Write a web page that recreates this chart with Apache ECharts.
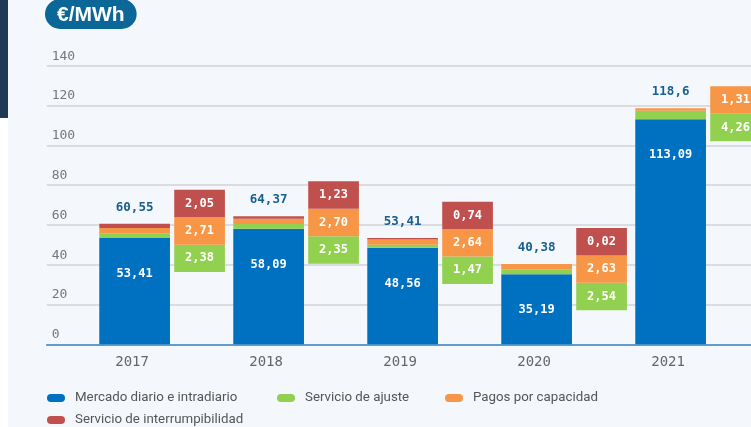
<!DOCTYPE html>
<html>
<head>
<meta charset="utf-8">
<script src="https://cdn.jsdelivr.net/npm/echarts@6/dist/echarts.min.js"></script>
<style>
  html, body { margin: 0; padding: 0; background: #F4F7FB; }
  #chart { width: 751px; height: 427px; }
</style>
</head>
<body>
<div id="chart"></div>
<script>
// datos (€/MWh)
const years = ['2017', '2018', '2019', '2020', '2021'];
const mercado = [53.41, 58.09, 48.56, 35.19, 113.09];
const ajuste = [2.38, 2.35, 1.47, 2.54, 4.26];
const capacidad = [2.71, 2.70, 2.64, 2.63, 1.31];
const interrump = [2.05, 1.23, 0.74, 0.02, null];
const totals = [60.55, 64.37, 53.41, 40.38, 118.6];
const yTicks = [0, 20, 40, 60, 80, 100, 120, 140];

const names = ['Mercado diario e intradiario', 'Servicio de ajuste', 'Pagos por capacidad', 'Servicio de interrumpibilidad'];
const colors = ['#0070C0', '#92D050', '#F79646', '#C0504D'];

const numFont = 'DejaVu Sans Mono';
const fmt2 = v => v.toFixed(2).replace('.', ',');
const fmtT = v => String(v).replace('.', ',');

// caja fija del desglose, en unidades del eje
const BOX = 13.8;
const base = years.map((_, i) => {
  const small = [ajuste[i], capacidad[i], interrump[i]].filter(v => v != null);
  const mid = mercado[i] + small.reduce((a, b) => a + b, 0) / 2;
  return mid - small.length * BOX / 2;
});

const dom = document.getElementById('chart');
const myChart = echarts.init(dom);

const mainW = 70.7, brkW = 50.7, gap = '6%';

const boxSeries = [ajuste, capacidad, interrump].map((arr, k) => ({
  name: names[k + 1],
  type: 'bar',
  stack: 'brk',
  xAxisIndex: 1, yAxisIndex: 1,
  barWidth: brkW, barGap: gap,
  itemStyle: { color: colors[k + 1] },
  label: {
    show: true, position: 'inside', color: '#fff',
    fontFamily: numFont, fontWeight: 'bold', fontSize: 12,
    formatter: p => fmt2(arr[p.dataIndex])
  },
  data: arr.map(v => v == null ? null : BOX)
}));

const legendPos = [[47, 391.5], [277, 391.5], [445, 391.5], [47, 413.5]];

const option = {
  backgroundColor: '#F4F7FB',
  animation: false,
  title: {
    text: '€/MWh',
    left: 45, top: -1,
    padding: [5, 12, 3, 12],
    backgroundColor: '#0B6797',
    borderRadius: 15,
    textStyle: { color: '#fff', fontFamily: 'Liberation Sans', fontWeight: 'bold', fontSize: 21, lineHeight: 22 }
  },
  graphic: [
    { type: 'rect', left: 0, top: 0, shape: { width: 8, height: 118 }, style: { fill: '#1E3A56' } },
    { type: 'rect', left: 0, top: 118, shape: { width: 8, height: 309 }, style: { fill: '#ffffff' } }
  ],
  legend: legendPos.map((p, k) => ({
    data: [names[k]],
    left: p[0], top: p[1], padding: 0,
    itemWidth: 18, itemHeight: 8,
    icon: 'path://M4,0 H14 A4,4 0 0 1 14,8 H4 A4,4 0 0 1 4,0 Z',
    textStyle: { color: '#555', fontFamily: 'Roboto', fontSize: 13.3, padding: [0, 0, 0, 5] }
  })),
  grid: [
    { left: 46.7, right: 0, top: 65.7, height: 278.6, outerBoundsMode: 'none' },
    { left: 95.1, width: 670, top: 65.7, height: 278.6, outerBoundsMode: 'none' }
  ],
  xAxis: [
    {
      gridIndex: 0, type: 'value', min: 0, max: 1,
      axisLine: { show: true, lineStyle: { color: '#3C86C6', width: 1.5 } },
      axisTick: { show: false }, axisLabel: { show: false }, splitLine: { show: false }
    },
    {
      gridIndex: 1, type: 'category', data: years,
      axisLine: { show: false }, axisTick: { show: false },
      axisLabel: {
        margin: 11,
        formatter: v => '{y|' + v + '}',
        rich: { y: { color: '#666', fontFamily: numFont, fontSize: 14, padding: [0, 60, 0, 0] } }
      }
    }
  ],
  yAxis: [
    {
      gridIndex: 0, type: 'value', min: yTicks[0], max: yTicks[yTicks.length - 1], interval: 20,
      axisLine: { show: false }, axisTick: { show: false },
      axisLabel: {
        inside: true, margin: 5, color: '#777', fontFamily: numFont, fontSize: 13,
        verticalAlign: 'bottom', padding: [0, 0, 3, 0]
      },
      splitLine: { lineStyle: { color: '#D3D3D3', width: 1.5 } }
    },
    {
      gridIndex: 1, type: 'value', min: yTicks[0], max: yTicks[yTicks.length - 1], interval: 20,
      show: false
    }
  ],
  series: [
    {
      name: names[0], type: 'bar', stack: 'main', xAxisIndex: 1, yAxisIndex: 1,
      barWidth: mainW, barGap: gap,
      itemStyle: { color: colors[0] },
      label: {
        show: true, position: 'insideTop', distance: 30, color: '#fff',
        fontFamily: numFont, fontWeight: 'bold', fontSize: 12,
        formatter: p => fmt2(p.value)
      },
      data: mercado
    },
    { name: names[1], type: 'bar', stack: 'main', xAxisIndex: 1, yAxisIndex: 1, barWidth: mainW, barGap: gap, itemStyle: { color: colors[1] }, data: ajuste },
    { name: names[2], type: 'bar', stack: 'main', xAxisIndex: 1, yAxisIndex: 1, barWidth: mainW, barGap: gap, itemStyle: { color: colors[2] }, data: capacidad },
    { name: names[3], type: 'bar', stack: 'main', xAxisIndex: 1, yAxisIndex: 1, barWidth: mainW, barGap: gap, itemStyle: { color: colors[3] }, data: interrump },
    {
      name: 'Total', type: 'bar', stack: 'main', xAxisIndex: 1, yAxisIndex: 1,
      barWidth: mainW, barGap: gap, silent: true,
      itemStyle: { color: 'transparent' },
      label: {
        show: true, position: 'top', distance: 10, color: '#175F8C',
        fontFamily: numFont, fontWeight: 'bold', fontSize: 12.5,
        formatter: p => fmtT(totals[p.dataIndex])
      },
      data: totals.map(() => 0)
    },
    {
      name: 'base', type: 'bar', stack: 'brk', xAxisIndex: 1, yAxisIndex: 1,
      barWidth: brkW, barGap: gap, silent: true,
      itemStyle: { color: 'transparent' },
      data: base
    }
  ].concat(boxSeries)
};

myChart.setOption(option);
</script>
</body>
</html>
